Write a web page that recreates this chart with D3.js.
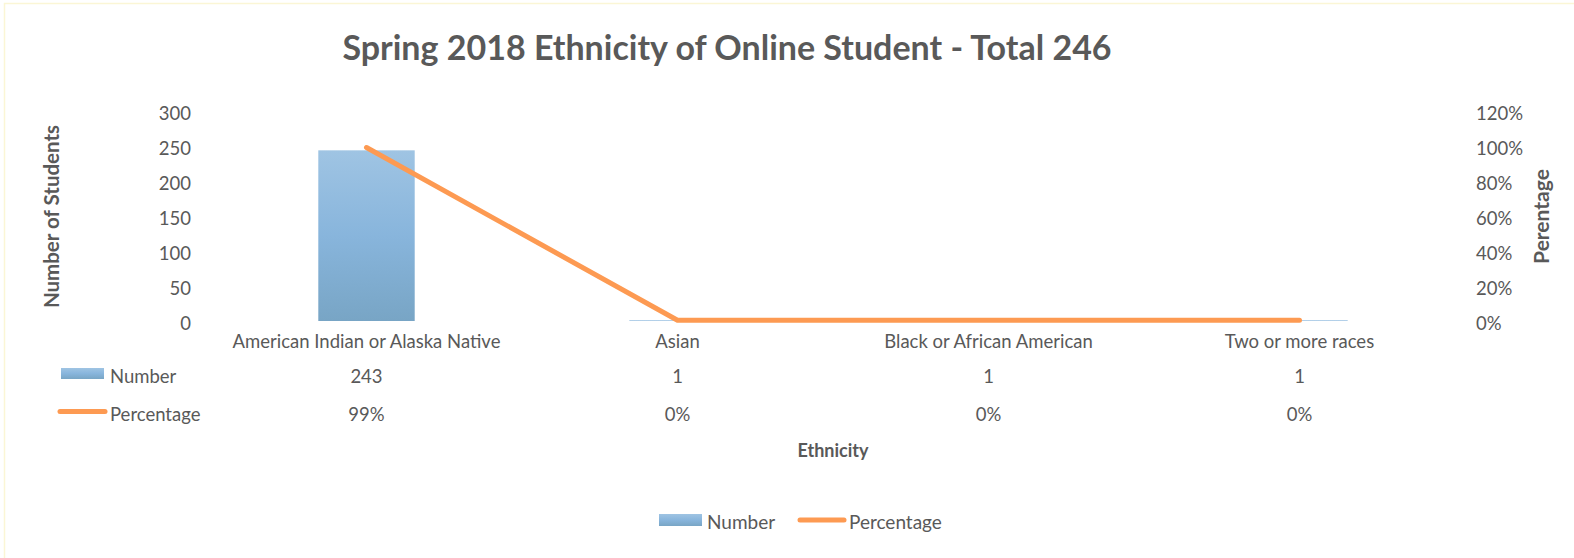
<!DOCTYPE html>
<html>
<head>
<meta charset="utf-8">
<script src="https://cdn.jsdelivr.net/npm/d3@7"></script>
<style>
  body { margin: 0; background: #fff; }
  svg text { font-family: Lato, "Open Sans", sans-serif; fill: #595959; }
</style>
</head>
<body>
<svg id="chart" width="1574" height="558"></svg>
<script>
// data
const categories = ["American Indian or Alaska Native", "Asian", "Black or African American", "Two or more races"];
const numbers = [243, 1, 1, 1];
const percentages = [0.988, 0.004, 0.004, 0.004];
const percentLabels = ["99%", "0%", "0%", "0%"];
const leftTicks = [0, 50, 100, 150, 200, 250, 300];
const rightTicks = [0, 0.2, 0.4, 0.6, 0.8, 1.0, 1.2];

const svg = d3.select("#chart");
const W = 1574, H = 558;
const margin = { left: 211, right: 119 };
const plotW = W - margin.left - margin.right;
const yBottom = 321, yTop = 110.3;
const fs = 18.5;

// faint frame (top and left edges)
svg.append("path")
  .attr("d", `M4.5,${H} V3.5 H${W}`)
  .attr("fill", "none").attr("stroke", "#fbf6d5").attr("stroke-width", 1.5);

const defs = svg.append("defs");
const grad = defs.append("linearGradient").attr("id", "barGrad")
  .attr("x1", 0).attr("y1", 0).attr("x2", 0).attr("y2", 1);
grad.append("stop").attr("offset", "0%").attr("stop-color", "#9fc4e3");
grad.append("stop").attr("offset", "50%").attr("stop-color", "#88b5dc");
grad.append("stop").attr("offset", "100%").attr("stop-color", "#78a5c5");

const x = d3.scaleBand().domain(categories)
  .range([margin.left, margin.left + plotW]).paddingInner(0).paddingOuter(0);
const yL = d3.scaleLinear().domain([0, 300]).range([yBottom, yTop]);
const yR = d3.scaleLinear().domain([0, 1.2]).range([yBottom, yTop]);

// title
svg.append("text")
  .attr("x", 727).attr("y", 60)
  .attr("text-anchor", "middle")
  .attr("font-size", 34).attr("font-weight", "bold")
  .text("Spring 2018 Ethnicity of Online Student - Total 246");

// left axis
const axL = d3.axisLeft(yL).tickValues(leftTicks).tickSize(0).tickPadding(0);
const gL = svg.append("g").attr("transform", "translate(191,0)").call(axL);
gL.select(".domain").remove();
gL.selectAll("text").attr("font-size", fs).attr("y", 3).style("fill", "#595959");

// right axis
const axR = d3.axisRight(yR).tickValues(rightTicks).tickSize(0).tickPadding(0)
  .tickFormat(d3.format(".0%"));
const gR = svg.append("g").attr("transform", "translate(1476,0)").call(axR);
gR.select(".domain").remove();
gR.selectAll("text").attr("font-size", fs).attr("y", 3).style("fill", "#595959");

// axis titles
svg.append("text")
  .attr("transform", "translate(59,216.5) rotate(-90)")
  .attr("text-anchor", "middle")
  .attr("font-size", 20.5).attr("font-weight", "bold")
  .text("Number of Students");
svg.append("text")
  .attr("transform", "translate(1549,216.5) rotate(-90)")
  .attr("text-anchor", "middle")
  .attr("font-size", 21).attr("font-weight", "bold")
  .text("Perentage");

// bars
const barW = x.bandwidth() * 0.31;
svg.append("g").selectAll("rect")
  .data(categories)
  .join("rect")
  .attr("x", d => x(d) + x.bandwidth() / 2 - barW / 2)
  .attr("width", barW)
  .attr("y", (d, i) => yL(numbers[i]))
  .attr("height", (d, i) => yBottom - yL(numbers[i]))
  .attr("fill", "url(#barGrad)");

// line
const line = d3.line()
  .x((d, i) => x(categories[i]) + x.bandwidth() / 2)
  .y(d => yR(d));
svg.append("path")
  .datum(percentages)
  .attr("d", line)
  .attr("fill", "none")
  .attr("stroke", "#fd9a52")
  .attr("stroke-width", 5)
  .attr("stroke-linecap", "round")
  .attr("stroke-linejoin", "round");

// category labels
svg.append("g").selectAll("text")
  .data(categories)
  .join("text")
  .attr("x", d => x(d) + x.bandwidth() / 2)
  .attr("y", 348)
  .attr("text-anchor", "middle")
  .attr("font-size", fs)
  .text(d => d);

// data table rows
const rowNumY = 383, rowPctY = 421;
svg.append("g").selectAll("text")
  .data(numbers)
  .join("text")
  .attr("x", (d, i) => x(categories[i]) + x.bandwidth() / 2)
  .attr("y", rowNumY)
  .attr("text-anchor", "middle")
  .attr("font-size", fs)
  .text(d => d);
svg.append("g").selectAll("text")
  .data(percentLabels)
  .join("text")
  .attr("x", (d, i) => x(categories[i]) + x.bandwidth() / 2)
  .attr("y", rowPctY)
  .attr("text-anchor", "middle")
  .attr("font-size", fs)
  .text(d => d);

// table legend keys
svg.append("rect").attr("x", 61).attr("y", 368).attr("width", 43).attr("height", 11)
  .attr("fill", "url(#barGrad)");
svg.append("text").attr("x", 110).attr("y", rowNumY).attr("font-size", fs).text("Number");
svg.append("line").attr("x1", 60).attr("x2", 105).attr("y1", 411.5).attr("y2", 411.5)
  .attr("stroke", "#fd9a52").attr("stroke-width", 5).attr("stroke-linecap", "round");
svg.append("text").attr("x", 110).attr("y", rowPctY).attr("font-size", fs).text("Percentage");

// x axis title
svg.append("text")
  .attr("x", 833).attr("y", 457)
  .attr("text-anchor", "middle")
  .attr("font-size", 18).attr("font-weight", "bold")
  .text("Ethnicity");

// bottom legend
svg.append("rect").attr("x", 659).attr("y", 514).attr("width", 43).attr("height", 12)
  .attr("fill", "url(#barGrad)");
svg.append("text").attr("x", 707).attr("y", 529).attr("font-size", 19).text("Number");
svg.append("line").attr("x1", 800).attr("x2", 844).attr("y1", 520).attr("y2", 520)
  .attr("stroke", "#fd9a52").attr("stroke-width", 5).attr("stroke-linecap", "round");
svg.append("text").attr("x", 849).attr("y", 529).attr("font-size", 19).text("Percentage");
</script>
</body>
</html>
